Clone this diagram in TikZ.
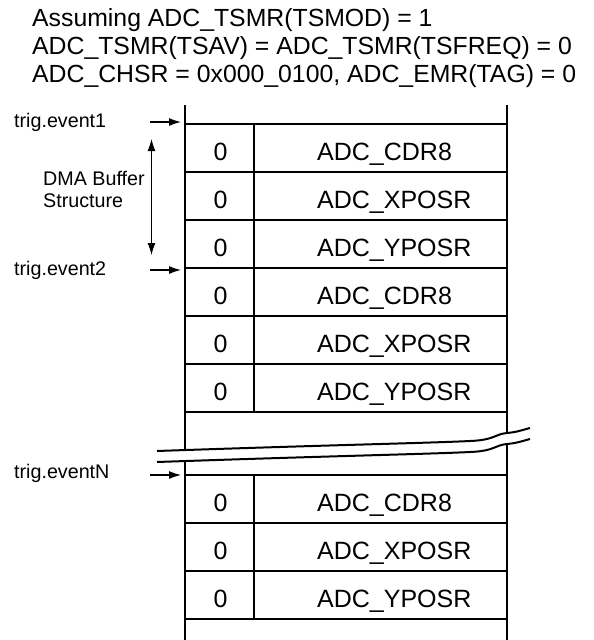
\documentclass[tikz,border=0pt]{standalone}
\usepackage{fontspec}
\setmainfont{Liberation Sans}
\usetikzlibrary{arrows.meta}
\begin{document}
\begin{tikzpicture}[x=1pt,y=-1pt,
  frame/.style={line width=2.8pt},
  rowline/.style={line width=1.6pt},
  divline/.style={line width=1.1pt},
  hdr/.style={font=\fontsize{24.8}{28}\selectfont, anchor=base west, inner sep=0pt},
  cellzero/.style={font=\fontsize{25}{28}\selectfont, anchor=base, inner sep=0pt},
  cellname/.style={font=\fontsize{25}{28}\selectfont, anchor=base west, inner sep=0pt},
  lbl/.style={font=\fontsize{19.7}{22}\selectfont, anchor=base west, inner sep=0pt},
  evarrow/.style={-{Latex[length=12pt,width=8pt]}, line width=1.1pt},
  dblarrow/.style={{Latex[length=12pt,width=8pt]}-{Latex[length=12pt,width=8pt]}, line width=1.1pt},
  brk/.style={line width=2pt}]
\useasboundingbox (0,0) rectangle (594,640);

% header
\node[hdr] (h1) at (32,26) {Assuming ADC\_TSMR(TSMOD) = 1};
\node[hdr] (h2) at (32,54) {ADC\_TSMR(TSAV) = ADC\_TSMR(TSFREQ) = 0};
\node[hdr] (h3) at (32,82) {ADC\_CHSR = 0x000\_0100, ADC\_EMR(TAG) = 0};

% frame
\draw[frame] (185,105) -- (185,640);
\draw[frame] (507,105) -- (507,640);

% rows section 1
\foreach \y in {124,172,220,268,316,364,412} \draw[rowline] (185,\y) -- (507,\y);
\draw[divline] (254,124) -- (254,412);
% rows section 2
\foreach \y in {475,523,571,619} \draw[rowline] (185,\y) -- (507,\y);
\draw[divline] (254,475) -- (254,619);

% cell texts
\foreach \m/\t [count=\i] in {148/CDR8,196/XPOSR,244/YPOSR,292/CDR8,340/XPOSR,388/YPOSR,499/CDR8,547/XPOSR,595/YPOSR}{
  \node[cellzero] (z\i) at (220.5,\m+12.3) {0};
  \node[cellname] (r\i) at (317,\m+12.3) {ADC\_\t};
}

% break
\draw[white, line width=10pt, yshift=-5.5pt] (157,451) .. controls (330,445) and (430,443) .. (470,441) .. controls (495,440) and (495,434) .. (507,433) .. controls (518,432) and (522,430) .. (530,428);
\draw[brk] (157,451) .. controls (330,445) and (430,443) .. (470,441) .. controls (495,440) and (495,434) .. (507,433) .. controls (518,432) and (522,430) .. (530,428);
\draw[brk, yshift=-11pt] (157,451) .. controls (330,445) and (430,443) .. (470,441) .. controls (495,440) and (495,434) .. (507,433) .. controls (518,432) and (522,430) .. (530,428);

% labels
\node[lbl] (e1) at (14,127) {trig.event1};
\node[lbl] (e2) at (14,275) {trig.event2};
\node[lbl] (eN) at (14,478) {trig.eventN};
\node[lbl] (dma1) at (43,185) {DMA Buffer};
\node[lbl] (dma2) at (43,207) {Structure};

% arrows
\coordinate (a1s) at (150,122); \coordinate (a1e) at (181,122);
\coordinate (a2s) at (150,270); \coordinate (a2e) at (181,270);
\coordinate (aNs) at (150,475); \coordinate (aNe) at (181,475);
\draw[evarrow] (a1s) -- (a1e);
\draw[evarrow] (a2s) -- (a2e);
\draw[evarrow] (aNs) -- (aNe);
\coordinate (dtop) at (151.5,139); \coordinate (dbot) at (151.5,255);
\draw[dblarrow] (dtop) -- (dbot);
\end{tikzpicture}
\end{document}
